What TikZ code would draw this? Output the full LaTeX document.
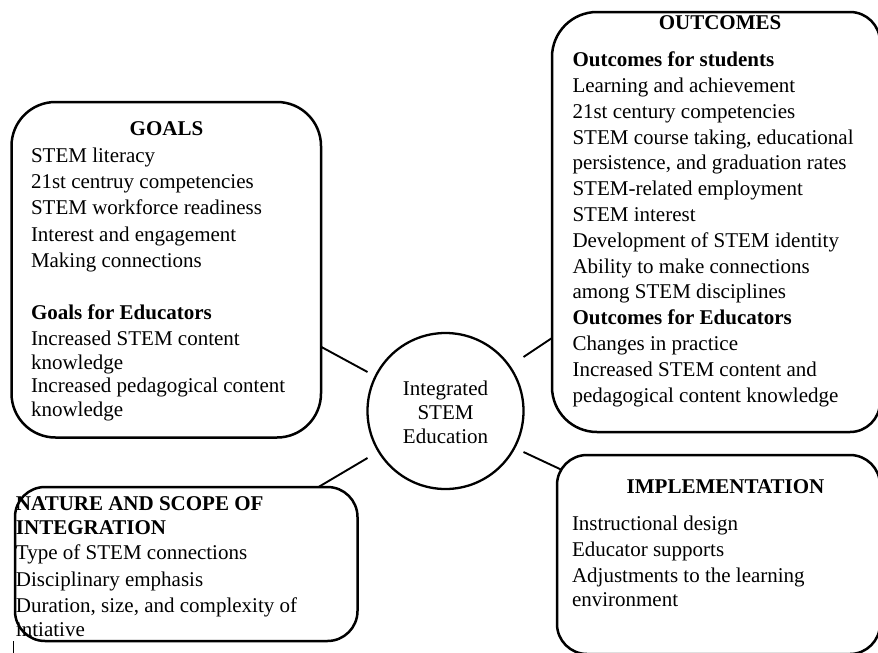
\documentclass[tikz,border=0pt]{standalone}
\usepackage{fontspec}
\setmainfont{Liberation Serif}
\usetikzlibrary{calc}
\begin{document}
\begin{tikzpicture}[x=1pt,y=-1pt,
  boxline/.style={line width=2.5pt, line join=round},
  box/.style={draw, line width=2.5pt, rectangle, inner sep=0pt, outer sep=0pt},
  ghost/.style={rectangle, inner sep=0pt, outer sep=0pt},
  hub/.style={draw, circle, line width=2.3pt, minimum size=156pt, inner sep=0pt, outer sep=0pt},
  link/.style={line width=1.9pt},
  body/.style={inner sep=0pt, outer sep=0pt, anchor=north west, align=left, font=\fontsize{21}{23.5}\selectfont},
  heading/.style={inner sep=0pt, outer sep=0pt, anchor=base, font=\fontsize{21}{23.5}\selectfont\bfseries}]
\fill[white] (0,0) rectangle (878,653);
\useasboundingbox (0,0) rectangle (878,653);

% boxes
\node[box, rounded corners=44pt, minimum width=309.5pt, minimum height=335.5pt] (goals) at (166.25,269.75) {};
\node[ghost, minimum width=328pt, minimum height=420pt] (outcomes) at (716,222) {};
\draw[boxline] ($(outcomes.north west)+(45,0)$) -- ($(outcomes.north east)+(-30,0)$)
  arc[start angle=90, end angle=0, radius=30pt] -- ($(outcomes.south east)+(0,-30)$)
  arc[start angle=0, end angle=-90, radius=30pt] -- ($(outcomes.south west)+(45,0)$)
  arc[start angle=270, end angle=180, radius=45pt] -- ($(outcomes.north west)+(0,45)$)
  arc[start angle=180, end angle=90, radius=45pt] -- cycle;
\node[box, rounded corners=30pt, minimum width=323pt, minimum height=199pt] (impl) at (718.5,554.5) {};
\node[box, rounded corners=30pt, minimum width=342.5pt, minimum height=154pt] (nature) at (186.25,564) {};
\node[hub] (c) at (445.5,411) {};

% connectors
\draw[link] ($(c.west)+(0,-39)$) -- ($(goals.east)+(0,77)$);
\draw[link] ($(c.east)+(0,-54)$) -- ($(outcomes.west)+(0,116)$);
\draw[link] ($(c.east)+(0,41)$) -- ($(impl.north west)+(5,15)$);
\draw[link] ($(c.west)+(0,47)$) -- ($(nature.north east)+(-39,0)$);

% texts
\node[body, anchor=north, align=center, font=\fontsize{21}{24}\selectfont] (ctext) at (445.5,378.2) {\strut Integrated\\STEM\\Education};

\node[heading] (goalsh) at (166.5,135) {GOALS};
\node[body] (goalstxt) at (31,146.25) {\strut STEM literacy\\[2.6pt]21st centruy competencies\\[2.6pt]STEM workforce readiness\\[2.6pt]Interest and engagement\\[2.6pt]Making connections\\[28.8pt]\textbf{Goals for Educators}\\[2.9pt]Increased STEM content\\knowledge\\Increased pedagogical content\\knowledge};

\node[heading] (outh) at (720,29.5) {OUTCOMES};
\node[body, font=\fontsize{21}{25.8}\selectfont] (outtxt) at (572.5,48.6) {\strut\textbf{Outcomes for students}\\Learning and achievement\\21st century competencies\\STEM course taking, educational\\persistence, and graduation rates\\STEM-related employment\\STEM interest\\Development of STEM identity\\Ability to make connections\\among STEM disciplines\\\textbf{Outcomes for Educators}\\Changes in practice\\Increased STEM content and\\pedagogical content knowledge};

\node[heading] (implh) at (725.5,493) {IMPLEMENTATION};
\node[body] (impltxt) at (572,513.55) {\strut Instructional design\\[3pt]Educator supports\\[2.5pt]Adjustments to the learning\\environment};

\node[body] (naturetxt) at (16,494.05) {\strut\textbf{NATURE AND SCOPE OF}\\\textbf{INTEGRATION}\\[1.5pt]Type of STEM connections\\[4.2pt]Disciplinary emphasis\\[2.5pt]Duration, size, and complexity of\\intiative};

% stray mark
\draw[line width=0.9pt] (13,641) -- (13,653);
\end{tikzpicture}
\end{document}
